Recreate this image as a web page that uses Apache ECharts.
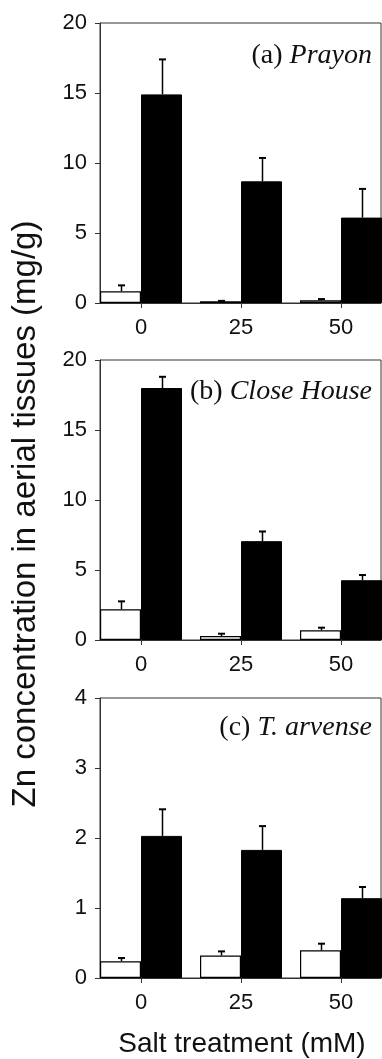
<!DOCTYPE html>
<html>
<head>
<meta charset="utf-8">
<script src="https://cdn.jsdelivr.net/npm/echarts@6/dist/echarts.min.js"></script>
<style>
html,body{margin:0;padding:0;background:#fff;}
#c{width:382px;height:1059px;}
</style>
</head>
<body>
<div id="c"></div>
<script>
// ---- data ----
const salt = [0, 25, 50];           // mM
const tickLabels = ['0', '25', '50'];
const panelNames = ['(a) ', '(b) ', '(c) '];
const panelSpecies = ['Prayon', 'Close House', 'T. arvense'];
const yMax = [20, 20, 4];
const yStep = [5, 5, 1];

const aWhite = [0.84, 0.13, 0.2];
const aWhiteErr = [0.42, 0.02, 0.08];
const aBlack = [14.9, 8.69, 6.1];
const aBlackErr = [2.5, 1.67, 2.05];

const bWhite = [2.19, 0.28, 0.69];
const bWhiteErr = [0.57, 0.17, 0.19];
const bBlack = [18.0, 7.06, 4.27];
const bBlackErr = [0.8, 0.69, 0.37];

const cWhite = [0.24, 0.32, 0.395];
const cWhiteErr = [0.045, 0.06, 0.095];
const cBlack = [2.03, 1.83, 1.14];
const cBlackErr = [0.38, 0.34, 0.16];

const whiteSets = [aWhite, bWhite, cWhite];
const whiteErrSets = [aWhiteErr, bWhiteErr, cWhiteErr];
const blackSets = [aBlack, bBlack, cBlack];
const blackErrSets = [aBlackErr, bBlackErr, cBlackErr];

// ---- layout / style ----
const BAR_W = 41;
const gridTops = [23, 360, 698];
const GRID_H = 280;
const axisColor = '#333';
const tickFont = 'Liberation Sans';

const chart = echarts.init(document.getElementById('c'), null, {renderer: 'canvas'});

const grids = [], xAxes = [], yAxes = [], series = [];
for (let p = 0; p < 3; p++) {
  grids.push({left: 100, top: gridTops[p], width: 281, height: GRID_H,
    show: true, borderColor: axisColor, borderWidth: 1, backgroundColor: 'transparent'});
  xAxes.push({
    type: 'value', gridIndex: p, min: -10.25, max: 60,
    axisLine: {show: true, onZero: false, lineStyle: {color: axisColor, width: 1}},
    axisTick: {show: true, length: 5, customValues: salt, lineStyle: {color: axisColor}},
    axisLabel: {show: true, customValues: salt, margin: 14, fontSize: 22, fontFamily: tickFont, color: '#111',
      formatter: v => tickLabels[salt.indexOf(v)] ?? ''},
    splitLine: {show: false}
  });
  yAxes.push({
    type: 'value', gridIndex: p, min: 0, max: yMax[p], interval: yStep[p],
    axisLine: {show: true, onZero: false, lineStyle: {color: axisColor, width: 1}},
    axisTick: {show: true, length: 5, lineStyle: {color: axisColor}},
    axisLabel: {margin: 13, fontSize: 22, fontFamily: tickFont, color: '#111'},
    splitLine: {show: false}
  });
  const w = whiteSets[p], b = blackSets[p];
  series.push({
    type: 'bar', xAxisIndex: p, yAxisIndex: p, barWidth: BAR_W, barGap: '0%',
    data: salt.map((s, i) => [s, w[i]]),
    itemStyle: {color: '#fff', borderColor: '#000', borderWidth: 1.2},
    silent: true, animation: false
  });
  series.push({
    type: 'bar', xAxisIndex: p, yAxisIndex: p, barWidth: BAR_W, barGap: '0%',
    data: salt.map((s, i) => [s, b[i]]),
    itemStyle: {color: '#000', borderColor: '#000', borderWidth: 1},
    silent: true, animation: false
  });
  // error bars: side -1 = white (left), +1 = black (right)
  const errData = [];
  salt.forEach((s, i) => {
    errData.push([s, w[i], w[i] + whiteErrSets[p][i], -1]);
    errData.push([s, b[i], b[i] + blackErrSets[p][i], 1]);
  });
  series.push({
    type: 'custom', xAxisIndex: p, yAxisIndex: p, data: errData, silent: true, animation: false,
    clip: false, z: 5,
    renderItem: function (params, api) {
      const x = api.value(0), v = api.value(1), e = api.value(2), side = api.value(3);
      const base = api.coord([x, v]);
      const top = api.coord([x, e]);
      const cx = Math.round(base[0] + side * BAR_W / 2) + 0.5;
      const stroke = {stroke: '#000', lineWidth: 1.5};
      return {type: 'group', children: [
        {type: 'line', shape: {x1: cx, y1: base[1], x2: cx, y2: top[1]}, style: stroke},
        {type: 'line', shape: {x1: cx - 3.5, y1: top[1], x2: cx + 3.5, y2: top[1]}, style: {stroke: '#000', lineWidth: 2}}
      ]};
    }
  });
}

const labelY = [56, 392, 728];
const graphics = [
  {type: 'text', x: 26, y: 514, rotation: Math.PI / 2,
    style: {text: 'Zn concentration in aerial tissues (mg/g)', font: '33px "Liberation Sans"', fill: '#111',
      align: 'center', verticalAlign: 'middle', textAlign: 'center', textVerticalAlign: 'middle'}},
  {type: 'text', x: 242, y: 1044,
    style: {text: 'Salt treatment (mM)', font: '28px "Liberation Sans"', fill: '#111',
      align: 'center', verticalAlign: 'middle', textAlign: 'center', textVerticalAlign: 'middle'}}
];
for (let p = 0; p < 3; p++) {
  graphics.push({type: 'text', x: 372, y: labelY[p], z: 10,
    style: {text: '{n|' + panelNames[p] + '}{i|' + panelSpecies[p] + '}',
      align: 'right', verticalAlign: 'middle', textAlign: 'right', textVerticalAlign: 'middle',
      rich: {
        n: {font: '28px "Liberation Serif"', fill: '#111', color: '#111'},
        i: {font: 'italic 28px "Liberation Serif"', fill: '#111', color: '#111'}
      }}});
}

chart.setOption({
  animation: false,
  grid: grids, xAxis: xAxes, yAxis: yAxes, series: series,
  graphic: graphics
});
</script>
</body>
</html>
